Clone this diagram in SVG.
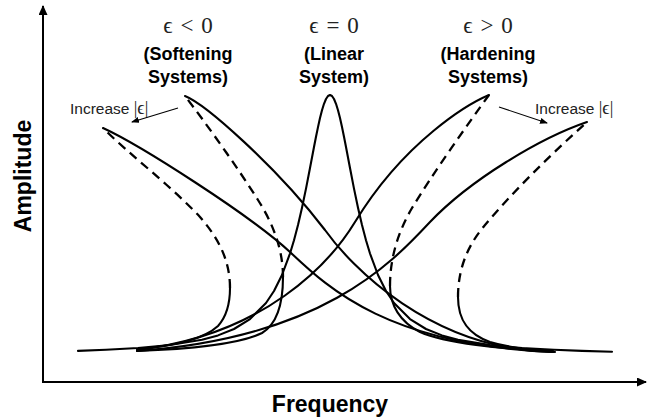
<svg xmlns="http://www.w3.org/2000/svg" width="647" height="420" viewBox="0 0 647 420">
<style>
.curve{fill:none;stroke:#000;stroke-width:2.1;stroke-linejoin:round;stroke-linecap:round}
.dash{fill:none;stroke:#000;stroke-width:2.3;stroke-dasharray:9 6}
.axis{fill:none;stroke:#000;stroke-width:2}
.thin{fill:none;stroke:#000;stroke-width:1.1}
.bold{font-family:"Liberation Sans",Arial,sans-serif;font-weight:bold;fill:#000}
.math{font-family:"Liberation Serif","DejaVu Serif",serif;fill:#222}
.note{font-family:"Liberation Sans",Arial,sans-serif;fill:#222}
</style>
<defs>
<marker id="axhead" markerWidth="10" markerHeight="9" refX="9" refY="4.5" orient="auto" markerUnits="userSpaceOnUse">
<path d="M0,0 L10,4.5 L0,9 z" fill="#000"/>
</marker>
<marker id="smallhead" markerWidth="8" markerHeight="6" refX="7" refY="3" orient="auto" markerUnits="userSpaceOnUse">
<path d="M0,0 L8,3 L0,6 z" fill="#000"/>
</marker>
</defs>

<g id="axes">
<line class="axis" x1="43" y1="382" x2="43" y2="6" marker-end="url(#axhead)"/>
<line class="axis" x1="42" y1="382" x2="646" y2="382" marker-end="url(#axhead)"/>
<text class="bold" font-size="23" text-anchor="middle" transform="translate(31,176) rotate(-90)">Amplitude</text>
<text class="bold" font-size="23" text-anchor="middle" x="330" y="412">Frequency</text>
</g>

<g id="curves">
<g id="linear">
<path class="curve" d="M78,350.9 L106,349.8 L138,348 L170,345 L202,339.7 L218,335.4 L234,329 L250,319.1 L266,303 L274,291 L282,275 L290,253.5 L294,240.2 L298,225 L302,207.7 L306,188.6 L310,168 L314,147 L316,136.8 L318,127.1 L320,118.1 L322,110.3 L324,103.8 L326,99 L328,96 L330,95 L332,96 L334,99 L336,103.8 L338,110.3 L340,118.1 L342,127.1 L344,136.8 L346,147 L350,168 L354,188.6 L358,207.7 L362,225 L366,240.2 L370,253.5 L378,275 L386,291 L394,303 L410,319.1 L426,329 L442,335.4 L458,339.7 L490,345 L522,348 L554,349.8 L582,350.9 L612,351.7"/>
</g>
<g id="softening-1">
<path class="curve" d="M137,351 C190,349 240,344 262,333 C277,324 283,305 283,277"/>
<path class="dash" d="M283,277 C283,248 272,222 258,200 C238,168 205,122 185,96"/>
<path class="curve" d="M185,96 C205,104 275,165 325,230 C350,265 430,350 553,352"/>
</g>
<g id="softening-2">
<path class="curve" d="M137,349 C175,346 205,338 218,326 C227,316 230,302 230,288"/>
<path class="dash" d="M230,288 C230,262 220,240 200,217 C170,185 130,155 103,128"/>
<path class="curve" d="M103,128 C140,145 250,215 290,252 C330,290 390,345 553,352"/>
</g>
<g id="hardening-1">
<path class="curve" d="M553,351 C500,349 445,343 420,332 C400,322 390,305 390,286"/>
<path class="dash" d="M390,286 C390,258 398,232 412,208 C432,175 465,128 489,95"/>
<path class="curve" d="M489,95 C470,103 405,140 355,222 C330,263 265,335 137,350"/>
</g>
<g id="hardening-2">
<path class="curve" d="M555,352 C530,350 510,348 490,342 C470,335 458,322 458,297"/>
<path class="dash" d="M458,297 C458,268 468,245 485,225 C510,195 550,155 587,122"/>
<path class="curve" d="M587,122 C540,138 470,180 430,222 C390,265 320,338 137,351"/>
</g>
</g>

<g id="titles">
<g id="title-softening">
<text class="math" font-size="23" text-anchor="middle" word-spacing="2" x="188" y="33">ϵ &lt; 0</text>
<text class="bold" font-size="18" text-anchor="middle" x="188" y="60">(Softening</text>
<text class="bold" font-size="18" text-anchor="middle" x="188" y="83">Systems)</text>
</g>
<g id="title-linear">
<text class="math" font-size="23" text-anchor="middle" word-spacing="2" x="334" y="33">ϵ = 0</text>
<text class="bold" font-size="18" text-anchor="middle" x="334" y="60">(Linear</text>
<text class="bold" font-size="18" text-anchor="middle" x="334" y="83">System)</text>
</g>
<g id="title-hardening">
<text class="math" font-size="23" text-anchor="middle" word-spacing="2" x="488" y="33">ϵ &gt; 0</text>
<text class="bold" font-size="18" text-anchor="middle" x="488" y="60">(Hardening</text>
<text class="bold" font-size="18" text-anchor="middle" x="488" y="83">Systems)</text>
</g>
</g>

<g id="annotations">
<g id="increase-left">
<text class="note" font-size="15.5" x="70" y="114">Increase <tspan class="math" font-size="18">|ϵ|</tspan></text>
<line class="thin" x1="178" y1="108" x2="132" y2="122" marker-end="url(#smallhead)"/>
</g>
<g id="increase-right">
<text class="note" font-size="15.5" x="535" y="114">Increase <tspan class="math" font-size="18">|ϵ|</tspan></text>
<line class="thin" x1="499" y1="107" x2="547" y2="123" marker-end="url(#smallhead)"/>
</g>
</g>
</svg>
